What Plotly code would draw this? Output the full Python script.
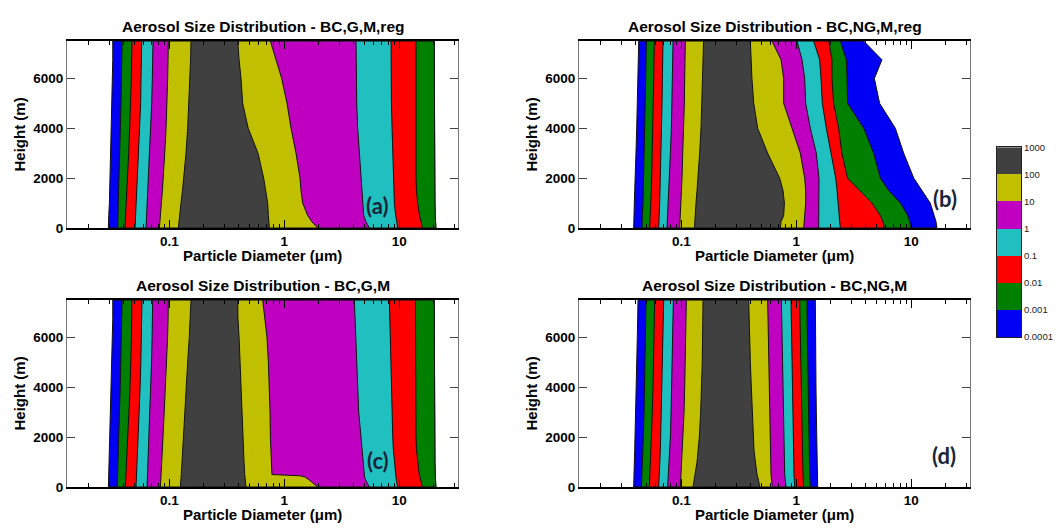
import math
import plotly.graph_objects as go

# ---------------- data ----------------
LEVELS = [0.0001, 0.001, 0.01, 0.1, 1, 10, 100, 1000]
LEVEL_LABELS = ["0.0001", "0.001", "0.01", "0.1", "1", "10", "100", "1000"]
BAND_COLORS = ["#0000f5", "#007f00", "#ff0000", "#20c0c0", "#c000c0", "#c0c000", "#404040"]

HEIGHTS = [0, 250, 500, 1000, 1500, 2000, 3000, 4000, 5000, 6000, 6750, 7500]
C_HEIGHTS = [0, 250, 400, 450, 500, 1000, 1500, 2000, 3000, 4000, 5000, 6000, 6750, 7500]

TITLES = ["Aerosol Size Distribution - BC,G,M,reg",
          "Aerosol Size Distribution - BC,NG,M,reg",
          "Aerosol Size Distribution - BC,G,M",
          "Aerosol Size Distribution - BC,NG,M"]
PANEL_TAGS = ["(a)", "(b)", "(c)", "(d)"]

X_TICKS = [0.1, 1, 10]
Y_TICKS = [0, 2000, 4000, 6000]

# left / right diameter (um) of the region where the value exceeds each level,
# rows = levels 0.0001 .. 100, columns = heights
A_LEFT = [
    [0.0295, 0.0295, 0.0297, 0.0301, 0.0303, 0.0305, 0.0309, 0.0313, 0.0318, 0.032, 0.0322, 0.0322],
    [0.0356, 0.0356, 0.0358, 0.036, 0.0362, 0.0365, 0.037, 0.0375, 0.038, 0.0383, 0.0385, 0.0388],
    [0.0411, 0.0414, 0.0417, 0.0423, 0.0428, 0.0434, 0.0443, 0.0452, 0.0461, 0.0467, 0.047, 0.0474],
    [0.0503, 0.0506, 0.051, 0.0516, 0.0523, 0.053, 0.054, 0.0552, 0.0563, 0.0567, 0.0571, 0.0575],
    [0.0627, 0.0631, 0.0635, 0.0644, 0.0652, 0.0661, 0.0674, 0.0688, 0.0702, 0.0711, 0.0716, 0.0721],
    [0.0819, 0.0825, 0.0836, 0.0852, 0.087, 0.0887, 0.0911, 0.0936, 0.0955, 0.0967, 0.0974, 0.098],
    [0.1198, 0.121, 0.123, 0.1263, 0.13, 0.1333, 0.1396, 0.1443, 0.1482, 0.151, 0.153, 0.1543],
]
A_RIGHT = [
    [20.8, 20.6, 20.5, 20.4, 20.4, 20.2, 20.2, 20.1, 20.1, 20.1, 20.1, 20.1],
    [20.8, 20.6, 20.5, 20.4, 20.4, 20.2, 20.2, 20.1, 20.1, 20.1, 20.1, 20.1],
    [15.9, 15.4, 15.0, 14.4, 14.1, 13.96, 13.8, 13.8, 13.8, 13.87, 13.96, 13.96],
    [9.68, 9.48, 9.3, 9.05, 8.93, 8.82, 8.76, 8.64, 8.53, 8.47, 8.47, 8.47],
    [5.48, 5.13, 4.9, 4.8, 4.73, 4.64, 4.49, 4.34, 4.26, 4.2, 4.2, 4.2],
    [1.95, 1.735, 1.595, 1.443, 1.396, 1.368, 1.263, 1.143, 1.055, 0.948, 0.847, 0.756],
    [0.741, 0.736, 0.726, 0.716, 0.688, 0.661, 0.59, 0.485, 0.434, 0.42, 0.404, 0.393],
]

B_LEFT = [
    [0.0385, 0.0385, 0.0388, 0.039, 0.0393, 0.0398, 0.0403, 0.0409, 0.0414, 0.042, 0.0423, 0.0426],
    [0.0455, 0.0455, 0.0458, 0.0464, 0.0467, 0.047, 0.0477, 0.0483, 0.0486, 0.049, 0.0493, 0.0496],
    [0.053, 0.0534, 0.0537, 0.0544, 0.0548, 0.0552, 0.0559, 0.0567, 0.0571, 0.0575, 0.0578, 0.0582],
    [0.0635, 0.064, 0.0644, 0.0648, 0.0652, 0.0657, 0.0666, 0.0674, 0.0679, 0.0684, 0.0688, 0.0693],
    [0.075, 0.0755, 0.076, 0.0771, 0.0781, 0.0792, 0.0803, 0.0819, 0.083, 0.0836, 0.0841, 0.0847],
    [0.0967, 0.0974, 0.098, 0.0993, 0.1007, 0.1013, 0.1027, 0.1048, 0.1062, 0.1069, 0.1076, 0.1083],
    [0.13, 0.1306, 0.1315, 0.1341, 0.1368, 0.1396, 0.1443, 0.1482, 0.151, 0.153, 0.155, 0.1561],
]
B_RIGHT = [
    [16.7, 16.4, 15.8, 14.6, 12.4, 10.5, 8.58, 7.26, 5.3, 4.77, 5.55, 3.85],
    [9.93, 9.68, 9.3, 8.03, 6.35, 5.37, 4.7, 3.85, 2.79, 2.76, 2.72, 2.41],
    [5.82, 5.67, 5.37, 4.55, 3.6, 2.79, 2.49, 2.33, 2.11, 2.04, 2.04, 1.91],
    [2.41, 2.38, 2.35, 2.32, 2.26, 2.2, 2.0, 1.823, 1.683, 1.638, 1.595, 1.414],
    [1.563, 1.563, 1.573, 1.573, 1.573, 1.573, 1.492, 1.323, 1.206, 1.182, 1.12, 1.013],
    [1.158, 1.174, 1.19, 1.206, 1.206, 1.182, 1.083, 0.917, 0.776, 0.776, 0.736, 0.614],
    [0.726, 0.736, 0.776, 0.787, 0.766, 0.716, 0.563, 0.461, 0.426, 0.411, 0.404, 0.398],
]

C_LEFT = [
    [0.0295, 0.0296, 0.0297, 0.0297, 0.0298, 0.03, 0.0302, 0.0304, 0.0308, 0.0312, 0.0316, 0.032, 0.0322, 0.0322],
    [0.0352, 0.0353, 0.0354, 0.0354, 0.0355, 0.0358, 0.036, 0.0363, 0.0368, 0.0374, 0.0379, 0.0383, 0.0386, 0.0388],
    [0.0414, 0.0416, 0.0418, 0.0418, 0.0419, 0.0425, 0.043, 0.0436, 0.0445, 0.0455, 0.0463, 0.0468, 0.047, 0.0472],
    [0.0513, 0.0516, 0.0518, 0.0519, 0.052, 0.0526, 0.0532, 0.0538, 0.0548, 0.0557, 0.0565, 0.057, 0.0575, 0.0578],
    [0.064, 0.0643, 0.0645, 0.0646, 0.0647, 0.0655, 0.0663, 0.067, 0.068, 0.069, 0.07, 0.0708, 0.0714, 0.0716],
    [0.0836, 0.084, 0.0843, 0.0844, 0.0845, 0.0855, 0.0868, 0.088, 0.0902, 0.0925, 0.095, 0.0965, 0.0975, 0.098],
    [0.1247, 0.1263, 0.1267, 0.1268, 0.127, 0.1289, 0.1306, 0.132, 0.1358, 0.14, 0.1443, 0.149, 0.152, 0.1543],
]
C_RIGHT = [
    [20.8, 20.6, 20.5, 20.5, 20.5, 20.4, 20.4, 20.2, 20.2, 20.1, 20.1, 20.1, 20.1, 20.1],
    [20.8, 20.6, 20.5, 20.5, 20.5, 20.4, 20.4, 20.2, 20.2, 20.1, 20.1, 20.1, 20.1, 20.1],
    [15.9, 15.4, 15.1, 15.0, 14.9, 14.4, 14.1, 13.96, 13.87, 13.8, 13.8, 13.8, 13.8, 13.8],
    [9.68, 9.42, 9.3, 9.26, 9.23, 9.05, 8.87, 8.76, 8.64, 8.53, 8.47, 8.36, 8.25, 8.19],
    [5.48, 5.13, 4.98, 4.94, 4.9, 4.8, 4.73, 4.64, 4.43, 4.34, 4.23, 4.17, 4.12, 4.06],
    [1.95, 1.68, 1.52, 1.38, 0.78, 0.766, 0.761, 0.756, 0.751, 0.741, 0.726, 0.707, 0.679, 0.648],
    [0.464, 0.458, 0.455, 0.453, 0.452, 0.446, 0.44, 0.437, 0.428, 0.42, 0.411, 0.404, 0.395, 0.393],
]

D_LEFT = [
    [0.0385, 0.0385, 0.0388, 0.039, 0.0393, 0.0396, 0.0401, 0.0406, 0.0411, 0.0414, 0.0417, 0.042],
    [0.0449, 0.0452, 0.0455, 0.0458, 0.0464, 0.0467, 0.0474, 0.048, 0.0483, 0.0486, 0.049, 0.0493],
    [0.0527, 0.053, 0.0534, 0.0541, 0.0548, 0.0552, 0.0559, 0.0567, 0.0575, 0.0578, 0.0582, 0.0586],
    [0.0635, 0.064, 0.0644, 0.0648, 0.0657, 0.0661, 0.067, 0.0679, 0.0688, 0.0693, 0.0697, 0.0702],
    [0.076, 0.0766, 0.0771, 0.0781, 0.0792, 0.0803, 0.0814, 0.0825, 0.0836, 0.0841, 0.0847, 0.0852],
    [0.098, 0.0987, 0.0993, 0.1007, 0.102, 0.1034, 0.1055, 0.1069, 0.1083, 0.1091, 0.1098, 0.1105],
    [0.1263, 0.128, 0.1315, 0.1368, 0.1405, 0.1433, 0.1472, 0.15, 0.152, 0.153, 0.1543, 0.1543],
]
D_RIGHT = [
    [1.533, 1.533, 1.523, 1.513, 1.513, 1.503, 1.492, 1.482, 1.472, 1.472, 1.462, 1.462],
    [1.323, 1.314, 1.306, 1.289, 1.28, 1.272, 1.263, 1.255, 1.247, 1.247, 1.239, 1.239],
    [1.158, 1.15, 1.143, 1.128, 1.12, 1.113, 1.105, 1.098, 1.09, 1.083, 1.076, 1.069],
    [0.967, 0.96, 0.954, 0.942, 0.936, 0.93, 0.923, 0.917, 0.911, 0.911, 0.905, 0.899],
    [0.813, 0.802, 0.792, 0.782, 0.776, 0.771, 0.766, 0.761, 0.756, 0.751, 0.746, 0.741],
    [0.618, 0.61, 0.602, 0.594, 0.59, 0.586, 0.582, 0.578, 0.574, 0.571, 0.567, 0.563],
    [0.48, 0.47, 0.455, 0.44, 0.428, 0.423, 0.415, 0.406, 0.398, 0.393, 0.388, 0.385],
]

# ---------------- layout geometry (pixels of the 1056x532 page) ----------------
W, H = 1056, 532
FONT = "Liberation Sans, Arial, sans-serif"


def fx(p):
    return p / W


def fy(p):
    return 1 - p / H


PANELS = [
    dict(left=A_LEFT, right=A_RIGHT, hts=HEIGHTS, xr=(67, 458), yr=(36, 228), tag_pos=(0.793, 0.12)),
    dict(left=B_LEFT, right=B_RIGHT, hts=HEIGHTS, xr=(579, 970), yr=(36, 228), tag_pos=(0.936, 0.16)),
    dict(left=C_LEFT, right=C_RIGHT, hts=C_HEIGHTS, xr=(67, 458), yr=(302, 494), tag_pos=(0.795, 0.14)),
    dict(left=D_LEFT, right=D_RIGHT, hts=HEIGHTS, xr=(579, 970), yr=(302, 494), tag_pos=(0.933, 0.167)),
]

MINOR_X = [0.02, 0.03, 0.04, 0.05, 0.06, 0.07, 0.08, 0.09,
           0.2, 0.3, 0.4, 0.5, 0.6, 0.7, 0.8, 0.9,
           2, 3, 4, 5, 6, 7, 8, 9, 20, 30]

fig = go.Figure()
annotations = []
layout = {}

for i, p in enumerate(PANELS):
    n = i + 1
    xa = "x" if n == 1 else f"x{n}"
    ya = "y" if n == 1 else f"y{n}"
    hts = p["hts"]
    for k in range(len(BAND_COLORS)):
        left = p["left"][k]
        right = p["right"][k]
        xs = list(left) + list(reversed(right)) + [left[0]]
        ys = list(hts) + list(reversed(hts)) + [hts[0]]
        fig.add_trace(go.Scatter(
            x=xs, y=ys, xaxis=xa, yaxis=ya, mode="lines", fill="toself",
            fillcolor=BAND_COLORS[k], line=dict(color="#111111", width=1),
            hoverinfo="skip", showlegend=False))

    x0, x1 = p["xr"]
    y0, y1 = p["yr"]
    layout["xaxis" if n == 1 else f"xaxis{n}"] = dict(
        domain=[fx(x0), fx(x1)], anchor=ya, type="log", range=[-1.89, 1.51],
        tickvals=X_TICKS, ticktext=[("%g" % v) for v in X_TICKS],
        ticks="inside", ticklen=8, tickwidth=1, tickcolor="black",
        minor=dict(tickvals=MINOR_X, ticks="inside", ticklen=4, tickcolor="black"),
        showline=True, linecolor="black", linewidth=1.5, mirror="ticks",
        showgrid=False, zeroline=False,
        tickfont=dict(family=FONT, size=13.5, color="black", weight="bold"))
    layout["yaxis" if n == 1 else f"yaxis{n}"] = dict(
        domain=[fy(y1), fy(y0)], anchor=xa, range=[0, 7500],
        tickvals=Y_TICKS, ticks="inside", ticklen=8, tickcolor="#444444",
        showline=True, linecolor="#777777", linewidth=1, mirror="ticks",
        showgrid=False, zeroline=False,
        tickfont=dict(family=FONT, size=13.5, color="black", weight="bold"))

    cx = (x0 + x1) / 2
    annotations.append(dict(text="<b>%s</b>" % TITLES[i], x=fx(cx), y=fy(y0 - 15),
                            xref="paper", yref="paper", showarrow=False,
                            font=dict(family=FONT, size=15.5, color="black"),
                            xanchor="center", yanchor="middle"))
    annotations.append(dict(text="<b>Particle Diameter (\u03bcm)</b>", x=fx(cx), y=fy(y1 + 28),
                            xref="paper", yref="paper", showarrow=False,
                            font=dict(family=FONT, size=15, color="black"),
                            xanchor="center", yanchor="middle"))
    annotations.append(dict(text="<b>Height (m)</b>", x=fx(x0 - 47), y=fy((y0 + y1) / 2),
                            xref="paper", yref="paper", showarrow=False, textangle=-90,
                            font=dict(family=FONT, size=15, color="black"),
                            xanchor="center", yanchor="middle"))
    tx, ty = p["tag_pos"]
    annotations.append(dict(text="<b>%s</b>" % PANEL_TAGS[i], x=tx, y=ty,
                            xref=f"{xa} domain", yref=f"{ya} domain", showarrow=False,
                            font=dict(family="Lato, Open Sans, sans-serif", size=22, color="#17243a"),
                            xanchor="center", yanchor="middle"))

# ---------------- colour bar (its own small axes) ----------------
log_levels = [math.log10(v) for v in LEVELS]
band_mid = [(log_levels[k] + log_levels[k + 1]) / 2 for k in range(len(BAND_COLORS))]
cscale = []
nb = len(BAND_COLORS)
for k, c in enumerate(BAND_COLORS):
    cscale.append([k / nb, c])
    cscale.append([(k + 1) / nb, c])
fig.add_trace(go.Heatmap(
    x=[0], y=band_mid, z=[[m] for m in band_mid], zmin=log_levels[0], zmax=log_levels[-1],
    colorscale=cscale, showscale=False, xaxis="x5", yaxis="y5", hoverinfo="skip"))
layout["xaxis5"] = dict(domain=[fx(997), fx(1021)], anchor="y5", range=[-0.5, 0.5],
                        showticklabels=False, ticks="", showgrid=False, zeroline=False,
                        showline=True, linecolor="#222222", linewidth=1, mirror=True)
layout["yaxis5"] = dict(domain=[fy(340), fy(145)], anchor="x5", range=[log_levels[0], log_levels[-1]],
                        side="right", tickvals=log_levels, ticktext=LEVEL_LABELS, ticks="",
                        showgrid=False, zeroline=False, showline=True, linecolor="#222222",
                        linewidth=1, mirror=True,
                        tickfont=dict(family=FONT, size=9.5, color="#222222"))

fig.update_layout(
    width=W, height=H, margin=dict(l=0, r=0, t=0, b=0),
    paper_bgcolor="white", plot_bgcolor="white",
    annotations=annotations, **layout)

fig.write_html("out.html")
